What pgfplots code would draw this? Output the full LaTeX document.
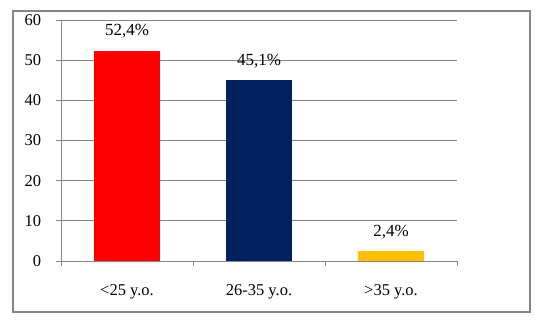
\documentclass[border=0pt]{standalone}
\usepackage{pgfplots}
\pgfplotsset{compat=1.18}
\usepackage{fontspec}
\setmainfont{Liberation Serif}
\definecolor{barred}{RGB}{255,0,0}
\definecolor{barnavy}{RGB}{0,32,96}
\definecolor{baryellow}{RGB}{255,192,0}
\definecolor{gridgray}{RGB}{134,134,134}
\begin{document}
\fontsize{17}{20}\selectfont
\begin{tikzpicture}[x=1pt,y=1pt]
\path (0,0) rectangle (543,322);
\draw[color=gridgray, line width=2.5pt] (13,10) rectangle (530,311);
\begin{axis}[
  at={(61pt,61pt)}, anchor=south west,
  scale only axis, width=396pt, height=241pt,
  xmin=-0.5, xmax=2.5, ymin=0, ymax=60,
  xtick={-0.5,0.5,1.5,2.5},
  x tick label as interval,
  xticklabels={{<25 y.o.},{26-35 y.o.},{>35 y.o.}},
  ytick={0,10,20,30,40,50,60},
  axis x line*=bottom, axis y line*=left,
  axis line style={-, color=gridgray, line width=0.8pt},
  ymajorgrids, grid style={gridgray, line width=0.8pt},
  tick style={gridgray, line width=0.8pt},
  tick align=outside, major tick length=5pt,
  /pgf/number format/assume math mode=true,
  ticklabel style={font=\fontsize{16.5}{20}\selectfont, text=black},
  xticklabel style={yshift=-13pt},
  yticklabel style={xshift=-9pt},
  ybar, bar width=66pt,
  point meta=explicit symbolic,
  nodes near coords,
  nodes near coords style={anchor=center, yshift=19pt, font=\fontsize{17}{20}\selectfont, text=black},
]
\addplot[fill=barred, draw=none, bar shift=0pt] coordinates {(0,52.4) [52,4\%]};
\addplot[fill=barnavy, draw=none, bar shift=0pt] coordinates {(1,45.1) [45,1\%]};
\addplot[fill=baryellow, draw=none, bar shift=0pt] coordinates {(2,2.4) [2,4\%]};
\end{axis}
\end{tikzpicture}
\end{document}
